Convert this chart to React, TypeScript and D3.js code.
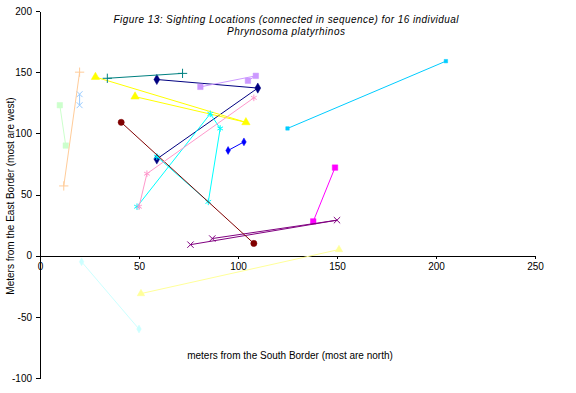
import React, { useRef, useEffect } from "react";
import * as d3 from "d3";

// sighting locations [x = m from south border, y = m from east border], in sequence
const lizard01 = [[59, 144], [110, 137], [59, 79]];
const lizard02 = [[138, 28], [149, 72]];
const lizard03 = [[28, 146], [104, 109], [48, 130]];
const lizard04 = [[49, 40], [86, 116], [91, 104], [85, 44], [59, 81]];
const lizard05 = [[76, 9], [150, 29], [87, 14]];
const lizard06 = [[41, 109], [108, 10]];
const lizard07 = [[34, 145], [72, 149]];
const lizard08 = [[95, 86], [103, 93]];
const lizard09 = [[125, 104], [205, 159]];
const lizard10 = [[21, -5], [50, -60]];
const lizard11 = [[10, 123], [13, 90]];
const lizard12 = [[51, -31], [151, 5]];
const lizard13 = [[20, 132], [20, 123]];
const lizard14 = [[50, 40], [54, 67], [108, 129]];
const lizard15 = [[81, 138], [109, 147], [105, 143]];
const lizard16 = [[20, 150], [12, 57]];

const lizards = [
  lizard01, lizard02, lizard03, lizard04, lizard05, lizard06, lizard07, lizard08,
  lizard09, lizard10, lizard11, lizard12, lizard13, lizard14, lizard15, lizard16,
];

const xTicks = [0, 50, 100, 150, 200, 250];
const yTicks = [-100, -50, 0, 50, 100, 150, 200];

const titleLines = [
  "Figure 13: Sighting Locations (connected in sequence) for 16 individual",
  "Phrynosoma platyrhinos",
];

// Excel-style series colours and markers
const colors = [
  "#000080", "#FF00FF", "#FFFF00", "#00FFFF", "#800080", "#800000", "#008080", "#0000FF",
  "#00CCFF", "#CCFFFF", "#CCFFCC", "#FFFF99", "#99CCFF", "#FF99CC", "#CC99FF", "#FFCC99",
];
const markers = [
  { type: d3.symbolDiamond, size: 30, fill: true },
  { type: d3.symbolSquare, size: 30, fill: true },
  { type: d3.symbolTriangle, size: 30, fill: true },
  { type: d3.symbolAsterisk, size: 30, fill: false },
  { type: d3.symbolTimes, size: 28, fill: false },
  { type: d3.symbolCircle, size: 30, fill: true },
  { type: d3.symbolPlus, size: 30, fill: false },
  { type: d3.symbolDiamond, size: 18, fill: true },
  { type: d3.symbolSquare, size: 12, fill: true },
  { type: d3.symbolDiamond, size: 18, fill: true },
  { type: d3.symbolSquare, size: 30, fill: true },
  { type: d3.symbolTriangle, size: 24, fill: true },
  { type: d3.symbolTimes, size: 24, fill: false },
  { type: d3.symbolAsterisk, size: 30, fill: false },
  { type: d3.symbolSquare, size: 30, fill: true },
  { type: d3.symbolPlus, size: 30, fill: false },
];

const W = 576;
const H = 393;
const FONT = "Arial, 'Liberation Sans', sans-serif";

export default function App() {
  const ref = useRef<SVGSVGElement | null>(null);

  useEffect(() => {
    if (!ref.current) return;
    const svg = d3.select(ref.current);
    svg.selectAll("*").remove();

    const x = d3.scaleLinear().domain([0, 250]).range([40, 535]);
    const y = d3.scaleLinear().domain([-100, 200]).range([378, 11]);

    // y axis at x = 0
    const yAxis = svg
      .append("g")
      .attr("transform", `translate(${x(0)},0)`)
      .call(
        d3.axisLeft(y).tickValues(yTicks).tickSize(4).tickSizeOuter(0).tickPadding(4)
          .tickFormat((d) => String(d))
      );
    // x axis at y = 0
    const xAxis = svg
      .append("g")
      .attr("transform", `translate(0,${Math.round(y(0))})`)
      .call(
        d3.axisBottom(x).tickValues(xTicks).tickSize(3).tickSizeOuter(0).tickPadding(4)
          .tickFormat((d) => String(d))
      );

    [yAxis, xAxis].forEach((ax) => {
      ax.select(".domain").attr("stroke", "#000").attr("shape-rendering", "crispEdges");
      ax.selectAll(".tick line").attr("stroke", "#000").attr("shape-rendering", "crispEdges");
      ax.selectAll(".tick text")
        .attr("fill", "#000")
        .style("font-family", FONT)
        .style("font-size", "10px");
    });

    const line = d3
      .line<number[]>()
      .x((d) => x(d[0]))
      .y((d) => y(d[1]));

    lizards.forEach((pts, i) => {
      const c = colors[i];
      svg.append("path")
        .attr("d", line(pts))
        .attr("fill", "none")
        .attr("stroke", c)
        .attr("stroke-width", 1);

      const m = markers[i];
      const sym = d3.symbol().type(m.type).size(m.size);
      svg.append("g")
        .selectAll("path")
        .data(pts)
        .join("path")
        .attr("transform", (d) => `translate(${x(d[0])},${y(d[1])})`)
        .attr("d", sym())
        .attr("fill", m.fill ? c : "none")
        .attr("stroke", c)
        .attr("stroke-width", m.fill ? 0.5 : 1);
    });

    // title, two centred lines as Excel wrapped it
    const titleLen = [345, 118];
    titleLines.forEach((t, i) => {
      svg.append("text")
        .attr("x", 286)
        .attr("y", 23 + i * 11.5)
        .attr("text-anchor", "middle")
        .attr("textLength", titleLen[i])
        .attr("lengthAdjust", "spacing")
        .style("font-family", FONT)
        .style("font-style", "italic")
        .style("font-size", "10px")
        .text(t);
    });

    // axis titles
    svg.append("text")
      .attr("transform", `translate(14,${196}) rotate(-90)`)
      .attr("text-anchor", "middle")
      .style("font-family", FONT)
      .style("font-size", "10px")
      .text("Meters from the East Border (most are west)");

    svg.append("text")
      .attr("x", 290)
      .attr("y", 359)
      .attr("text-anchor", "middle")
      .style("font-family", FONT)
      .style("font-size", "10px")
      .text("meters from the South Border (most are north)");
  }, []);

  return (
    <svg
      ref={ref}
      width={W}
      height={H}
      style={{ position: "absolute", left: 0, top: 0, background: "#fff" }}
    />
  );
}
